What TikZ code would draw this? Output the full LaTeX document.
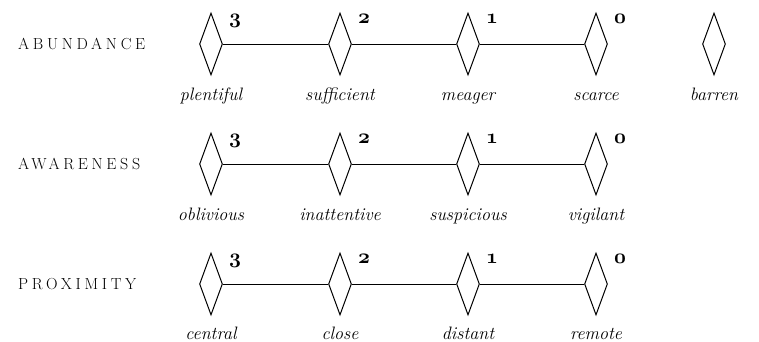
\documentclass[tikz,border=0pt]{standalone}
\usepackage{fontspec}
\usetikzlibrary{positioning,shapes.geometric,calc}
\newfontfamily\trackfont{Latin Modern Roman}[LetterSpace=23]
\newcommand\oldnum[1]{{\usefont{OML}{cmm}{b}{it}#1}}

\begin{document}
\begin{tikzpicture}[x=1pt,y=-1pt,
  pip/.style={draw,diamond,minimum width=23pt,minimum height=62pt,inner sep=0pt,line width=1pt},
  rank/.style={font=\fontsize{21}{21}\selectfont,anchor=base west,inner sep=0pt},
  word/.style={font=\fontsize{18}{18}\selectfont\itshape,anchor=base,inner sep=0pt},
  track/.style={font=\fontsize{16}{16}\selectfont\trackfont,anchor=west,inner sep=0pt}]
\useasboundingbox (0,0) rectangle (759,341);

% abundance
\node[track] (abundance) at (18,44) {ABUNDANCE};
\foreach \i/\x/\w in {3/211/plentiful,2/340/sufficient,1/468/meager,0/596/scarce}{
  \node[pip] (ab\i) at (\x,44) {};
  \node[rank] at ($(ab\i)+(18,-21)$) {\oldnum{\i}};
  \node[word] at (\x,100) {\w};
}
\node[pip] (abx) at (714,44) {};
\node[word] at (714,100) {barren};
\foreach \i/\j in {3/2,2/1,1/0} \draw[line width=1pt] (ab\i.east) -- (ab\j.west);

% awareness
\node[track] (awareness) at (18,164) {AWARENESS};
\foreach \i/\x/\w in {3/211/oblivious,2/340/inattentive,1/468/suspicious,0/596/vigilant}{
  \node[pip] (aw\i) at (\x,164) {};
  \node[rank] at ($(aw\i)+(18,-21)$) {\oldnum{\i}};
  \node[word] at (\x,220) {\w};
}
\foreach \i/\j in {3/2,2/1,1/0} \draw[line width=1pt] (aw\i.east) -- (aw\j.west);

% proximity
\node[track] (proximity) at (18,284) {PROXIMITY};
\foreach \i/\x/\w in {3/211/central,2/340/close,1/468/distant,0/596/remote}{
  \node[pip] (px\i) at (\x,284) {};
  \node[rank] at ($(px\i)+(18,-21)$) {\oldnum{\i}};
  \node[word] at (\x,339) {\w};
}
\foreach \i/\j in {3/2,2/1,1/0} \draw[line width=1pt] (px\i.east) -- (px\j.west);
\end{tikzpicture}
\end{document}
